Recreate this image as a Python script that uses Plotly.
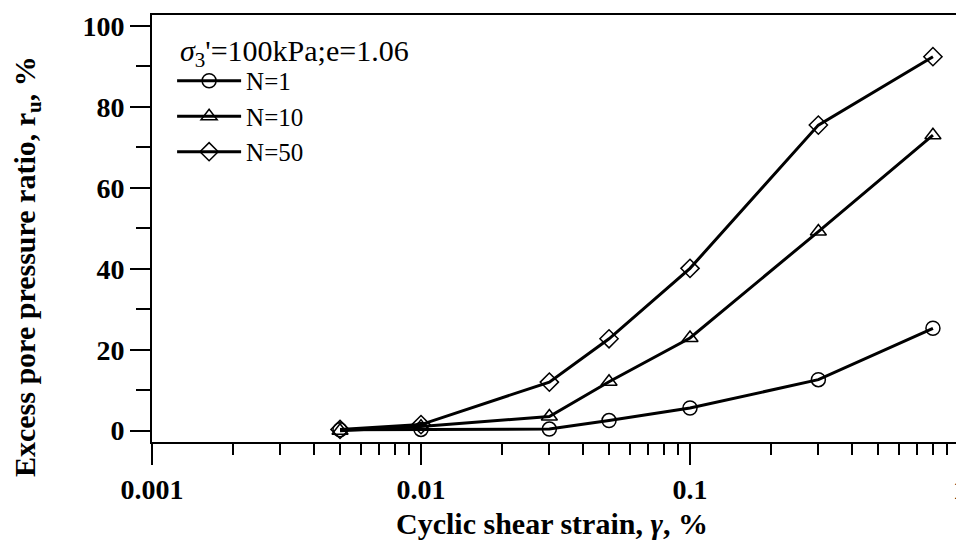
import numpy as np
import plotly.graph_objects as go

# Cyclic shear strain (%) and excess pore pressure ratio r_u (%) for three cycle counts
strain = [0.005, 0.01, 0.03, 0.05, 0.1, 0.3, 0.8]
ru_n1 = [0.2, 0.3, 0.4, 2.5, 5.6, 12.6, 25.3]
ru_n10 = [0.0, 1.0, 3.5, 12.1, 22.9, 49.2, 73.0]
ru_n50 = [0.3, 1.5, 12.0, 22.7, 40.1, 75.5, 92.4]

series_names = ["N=1", "N=10", "N=50"]
series_values = [ru_n1, ru_n10, ru_n50]
series_symbols = ["circle-open", "triangle-up-open", "diamond-open"]

x_tick_vals = [0.001, 0.01, 0.1]
x_tick_text = ["0.001", "0.01", "0.1"]
y_tick_vals = [0, 20, 40, 60, 80, 100]

SERIF = "Liberation Serif"

fig = go.Figure()
for name, vals, sym in zip(series_names, series_values, series_symbols):
    fig.add_trace(go.Scatter(
        x=strain, y=vals, mode="lines+markers", name=name,
        line=dict(color="black", width=3),
        marker=dict(symbol=sym, size=14, color="black",
                    line=dict(width=1.5, color="black")),
    ))

# minor log ticks 2..9 within each decade
minor_x = [m * 10.0 ** d for d in range(-3, 0) for m in range(2, 10)]

fig.update_xaxes(
    type="log", range=[-3, -0.0112],
    showgrid=False, zeroline=False,
    showline=True, linecolor="black", linewidth=2, mirror=True,
    ticks="outside", ticklen=21, tickwidth=2, tickcolor="black",
    tickvals=x_tick_vals, ticktext=x_tick_text,
    tickfont=dict(family=SERIF, size=28, color="black", weight="bold"),
    minor=dict(ticks="outside", ticklen=11, tickwidth=2, tickcolor="black",
               tickvals=minor_x, showgrid=False),
)
fig.update_yaxes(
    range=[-2.8, 102.7],
    showgrid=False, zeroline=False,
    showline=True, linecolor="black", linewidth=2,
    ticks="outside", ticklen=20, tickwidth=2, tickcolor="black",
    tickvals=y_tick_vals,
    tickfont=dict(family=SERIF, size=28, color="black", weight="bold"),
    minor=dict(ticks="outside", ticklen=14, tickwidth=2, tickcolor="black",
               dtick=10, showgrid=False),
)

fig.update_layout(
    width=956, height=543,
    margin=dict(l=152, r=0, t=15, b=101),
    paper_bgcolor="white", plot_bgcolor="white",
    font=dict(family=SERIF, color="black"),
    showlegend=True,
    legend=dict(
        x=0.025, y=0.8994, xanchor="left", yanchor="top",
        bgcolor="rgba(0,0,0,0)", borderwidth=0,
        font=dict(family=SERIF, size=25, color="black"),
        itemwidth=64, tracegroupgap=0,
    ),
    annotations=[
        # heading above the legend entries
        dict(text="<i>σ</i><sub>3</sub>'=100kPa;e=1.06",
             xref="paper", yref="paper", x=0.032, y=0.912,
             xanchor="left", yanchor="middle", showarrow=False,
             font=dict(family=SERIF, size=30, color="black")),
        dict(text="<b>Cyclic shear strain, <i>γ</i>, %</b>",
             xref="paper", yref="paper", x=0.4975, y=-0.191,
             xanchor="center", yanchor="middle", showarrow=False,
             font=dict(family=SERIF, size=30, color="black")),
        dict(text="<b>Excess pore pressure ratio, r<sub>u</sub>, %</b>",
             xref="paper", yref="paper", x=-0.1555, y=0.412,
             xanchor="center", yanchor="middle", textangle=-90, showarrow=False,
             font=dict(family=SERIF, size=30, color="black")),
        # decade label at x = 1 sits just past the right edge of the canvas
        dict(text="<b>1</b>", xref="paper", yref="paper", x=1.0046, y=-0.111,
             xanchor="center", yanchor="middle", showarrow=False,
             font=dict(family=SERIF, size=28, color="black")),
    ],
)

fig.write_html("out.html")
